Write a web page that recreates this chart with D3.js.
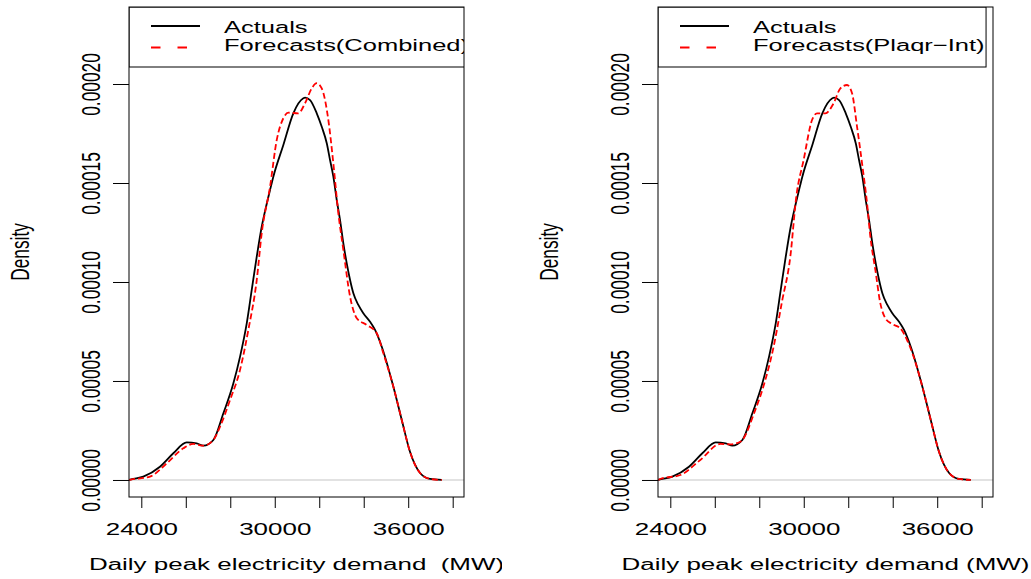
<!DOCTYPE html>
<html>
<head>
<meta charset="utf-8">
<script src="https://d3js.org/d3.v7.min.js"></script>
<style>
body { margin: 0; background: #fff; }
text { font-family: "Liberation Sans", Arial, sans-serif; fill: #000; }
</style>
</head>
<body>
<div id="visu"></div>
<script>

// Densité des pics journaliers (MW) : valeurs
var actualMW   = [23450, 23540, 24090, 24840, 25440, 26040, 26490, 26790, 27240, 27690, 28140, 28440, 28740, 28965, 29190, 29414, 29608, 29788, 29936, 30386, 30835, 31285, 31362, 31587, 31888, 32113, 32338, 32486, 32634, 32787, 32936, 33084, 33237, 33386, 33534, 33758, 33983, 34285, 34509, 34811, 35333, 35710, 36084, 36534, 36983, 37509];
var actualDens = [0, 0.03e-5, 0.17e-5, 0.67e-5, 1.35e-5, 1.90e-5, 1.85e-5, 1.73e-5, 2.02e-5, 3.37e-5, 4.88e-5, 6.23e-5, 7.91e-5, 9.60e-5, 11.28e-5, 12.79e-5, 13.80e-5, 14.65e-5, 15.32e-5, 16.92e-5, 18.52e-5, 19.28e-5, 19.31e-5, 19.19e-5, 18.52e-5, 17.84e-5, 17.01e-5, 16.16e-5, 15.32e-5, 14.14e-5, 13.13e-5, 11.95e-5, 10.94e-5, 10.10e-5, 9.43e-5, 8.84e-5, 8.42e-5, 7.99e-5, 7.58e-5, 6.73e-5, 4.71e-5, 3.03e-5, 1.41e-5, 0.35e-5, 0.05e-5, 0];

var combinedMW   = [23450, 23537, 24391, 25142, 25889, 26338, 26788, 27238, 27539, 27989, 28439, 28812, 29190, 29414, 29788, 30089, 30386, 30611, 31060, 31362, 31663, 31888, 32113, 32410, 32634, 32859, 33084, 33386, 33687, 34136, 34586, 34883, 35333, 35710, 36084, 36534, 36983, 37509];
var combinedDens = [0, 0.02e-5, 0.17e-5, 0.84e-5, 1.60e-5, 1.82e-5, 1.73e-5, 2.02e-5, 2.69e-5, 4.04e-5, 5.56e-5, 7.58e-5, 10.10e-5, 12.47e-5, 14.81e-5, 17.17e-5, 18.27e-5, 18.55e-5, 18.52e-5, 19.03e-5, 19.78e-5, 20.04e-5, 19.78e-5, 18.18e-5, 15.99e-5, 13.47e-5, 11.62e-5, 9.26e-5, 8.17e-5, 7.83e-5, 7.41e-5, 6.40e-5, 4.71e-5, 3.03e-5, 1.41e-5, 0.35e-5, 0.05e-5, 0];

var plaqrMW   = [23450, 23550, 24450, 25349, 26249, 26698, 27148, 27822, 28272, 28645, 29020, 29396, 29665, 29994, 30372, 30597, 30970, 31344, 31645, 31946, 32171, 32396, 32621, 32846, 32994, 33219, 33444, 33669, 33970, 34343, 34645, 34900, 35333, 35710, 36084, 36534, 36983, 37509];
var plaqrDens = [0, 0.05e-5, 0.25e-5, 1.01e-5, 1.82e-5, 1.80e-5, 1.93e-5, 3.54e-5, 5.05e-5, 6.73e-5, 9.00e-5, 11.28e-5, 14.31e-5, 16.16e-5, 18.18e-5, 18.52e-5, 18.52e-5, 19.03e-5, 19.78e-5, 19.95e-5, 19.53e-5, 17.84e-5, 15.99e-5, 13.97e-5, 12.29e-5, 10.61e-5, 8.92e-5, 8.17e-5, 7.88e-5, 7.66e-5, 7.07e-5, 6.35e-5, 4.71e-5, 3.03e-5, 1.41e-5, 0.35e-5, 0.05e-5, 0];

var xTicks  = [24000, 26000, 28000, 30000, 32000, 34000, 36000, 38000];
var xLabels = [24000, 30000, 36000];
var yTicks  = [0, 0.00005, 0.0001, 0.00015, 0.0002];
var yLabels = ["0.00000", "0.00005", "0.00010", "0.00015", "0.00020"];

// texte étiré horizontalement comme sur l'image
var SX = 1.5, FS = 17.3, FSLEG = 17;

var svg = d3.select("#visu").append("svg")
    .attr("width", 1031)
    .attr("height", 579);

function panneau(left, fMW, fDens, legende, titreX, figRight) {
  var right = left + 335, top = 7, bottom = 497;
  var x = d3.scaleLinear().domain([23447, 38508]).range([left, right]);
  var y = d3.scaleLinear().domain([-0.0000086, 0.0002389]).range([bottom, top]);

  var id = "clip" + left;
  svg.append("clipPath").attr("id", id)
    .append("rect").attr("x", left).attr("y", top).attr("width", 335).attr("height", bottom - top);
  var fid = "fig" + left;
  svg.append("clipPath").attr("id", fid)
    .append("rect").attr("x", left - 130).attr("y", 0).attr("width", figRight - left + 130).attr("height", 579);

  var plot = svg.append("g").attr("clip-path", "url(#" + id + ")");

  // ligne à zéro
  plot.append("line")
    .attr("x1", left).attr("x2", right)
    .attr("y1", y(0)).attr("y2", y(0))
    .attr("stroke", "#d9d9d9").attr("stroke-width", 1.5);

  var ligne = d3.line()
    .x(d => x(d[0]))
    .y(d => y(d[1]))
    .curve(d3.curveMonotoneX);

  plot.append("path")
    .datum(d3.zip(actualMW, actualDens))
    .attr("d", ligne)
    .attr("fill", "none").attr("stroke", "#000").attr("stroke-width", 1.8);

  plot.append("path")
    .datum(d3.zip(fMW, fDens))
    .attr("d", ligne)
    .attr("fill", "none").attr("stroke", "#ff0000").attr("stroke-width", 1.8)
    .attr("stroke-dasharray", "6,3");

  // légende
  var leg = plot.append("g");
  var box = leg.append("rect")
    .attr("x", left).attr("y", top).attr("height", 67 - top)
    .attr("fill", "#fff").attr("stroke", "#000").attr("stroke-width", 1);
  leg.append("line")
    .attr("x1", left + 22).attr("x2", left + 71)
    .attr("y1", 26).attr("y2", 26)
    .attr("stroke", "#000").attr("stroke-width", 1.8);
  leg.append("line")
    .attr("x1", left + 22).attr("x2", left + 71)
    .attr("y1", 47.5).attr("y2", 47.5)
    .attr("stroke", "#ff0000").attr("stroke-width", 1.8)
    .attr("stroke-dasharray", "9.5,17");
  var t1 = leg.append("text").text("Actuals")
    .attr("font-size", FSLEG)
    .attr("transform", "translate(" + (left + 95) + ",33.3) scale(" + SX + ",1)");
  var t2 = leg.append("text").text(legende)
    .attr("font-size", FSLEG)
    .attr("transform", "translate(" + (left + 95) + ",51) scale(" + SX + ",1)");
  var larg = Math.max(t1.node().getComputedTextLength(), t2.node().getComputedTextLength()) * SX;
  box.attr("width", 95 + larg + 1.5);

  // cadre
  svg.append("rect")
    .attr("x", left).attr("y", top)
    .attr("width", 335).attr("height", bottom - top)
    .attr("fill", "none").attr("stroke", "#000").attr("stroke-width", 1);

  // axe x
  var gx = svg.append("g")
    .attr("transform", "translate(0," + bottom + ")")
    .call(d3.axisBottom(x)
      .tickValues(xTicks)
      .tickSize(11)
      .tickFormat(d => xLabels.includes(d) ? String(d) : ""));
  gx.select(".domain").remove();
  gx.selectAll("line").attr("stroke", "#000");
  gx.selectAll("text")
    .attr("y", 38).attr("dy", null)
    .attr("font-size", FS)
    .attr("font-family", "Liberation Sans, Arial, sans-serif")
    .attr("transform", "scale(" + SX + ",1)");

  // axe y
  var gy = svg.append("g")
    .attr("transform", "translate(" + left + ",0)")
    .call(d3.axisLeft(y)
      .tickValues(yTicks)
      .tickSize(16)
      .tickFormat((d, i) => yLabels[i]));
  gy.select(".domain").remove();
  gy.selectAll("line").attr("stroke", "#000");
  gy.selectAll("text")
    .attr("x", 0).attr("y", 0).attr("dy", null)
    .attr("text-anchor", "middle")
    .attr("font-size", FS)
    .attr("font-family", "Liberation Sans, Arial, sans-serif")
    .attr("transform", "translate(-29,0) scale(" + SX + ",1) rotate(-90)");

  // titres
  svg.append("text")
    .text("Density")
    .attr("font-size", FS)
    .attr("text-anchor", "middle")
    .attr("transform", "translate(" + (left - 100.5) + "," + ((top + bottom) / 2) + ") scale(" + SX + ",1) rotate(-90)");

  svg.append("g").attr("clip-path", "url(#" + fid + ")")
    .append("text")
    .text(titreX)
    .style("white-space", "pre")
    .attr("font-size", FS)
    .attr("text-anchor", "middle")
    .attr("transform", "translate(" + ((left + right) / 2) + ",570) scale(" + SX + ",1)");
}

panneau(129, combinedMW, combinedDens, "Forecasts(Combined)", "Daily peak electricity demand  (MW)", 502);
panneau(658, plaqrMW, plaqrDens, "Forecasts(Plaqr\u2212Int)", "Daily peak electricity demand (MW)", 1031);

</script>
</body>
</html>
